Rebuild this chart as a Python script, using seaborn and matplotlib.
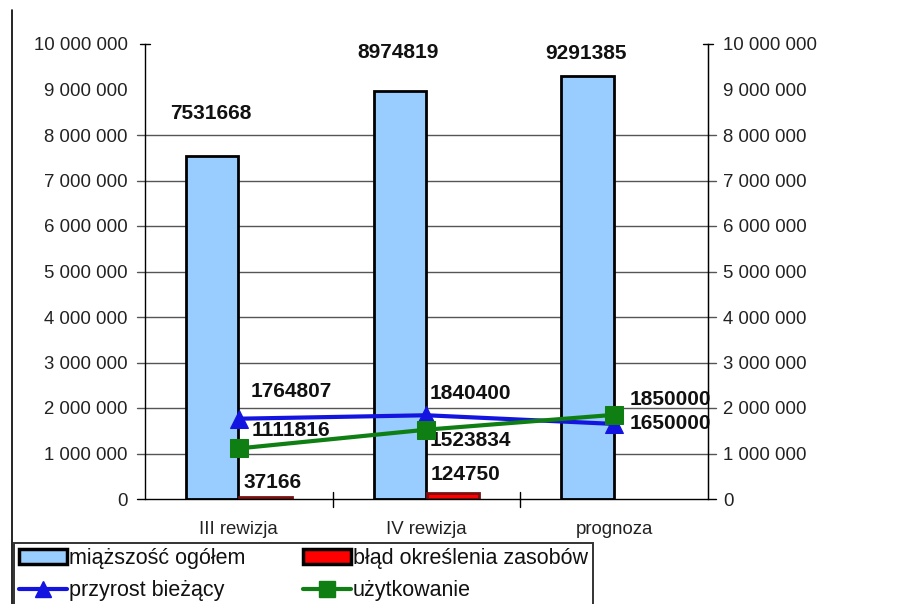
import numpy as np
import pandas as pd
import matplotlib
matplotlib.use("Agg")
import matplotlib.pyplot as plt
import seaborn as sns
from matplotlib.lines import Line2D
from matplotlib.patches import Patch

# data
categories = ["III rewizja", "IV rewizja", "prognoza"]
miazszosc = [7531668, 8974819, 9291385]
blad = [37166, 124750, None]
przyrost = [1764807, 1840400, 1650000]
uzytkowanie = [1111816, 1523834, 1850000]
y_ticks = list(range(0, 10_000_001, 1_000_000))

BLUE_BAR = "#99ccff"
RED_BAR = "#ff0000"
BLUE_LINE = "#1414e0"
GREEN_LINE = "#0f7f14"
TEXT = "#222222"

sns.set_style("white")
plt.rcParams["font.family"] = ["Liberation Sans", "DejaVu Sans"]

rows = []
for c, v in zip(categories, miazszosc):
    rows.append({"kat": c, "seria": "miąższość ogółem", "wartosc": v})
for c, v in zip(categories, blad):
    if v is not None:
        rows.append({"kat": c, "seria": "błąd określenia zasobów", "wartosc": v})
df = pd.DataFrame(rows)

fig = plt.figure(figsize=(9.18, 6.04), dpi=100)
ax = fig.add_axes([145 / 918, 1 - 499 / 604, (708 - 145) / 918, (499 - 44) / 604])

sns.barplot(data=df, x="kat", y="wartosc", hue="seria", order=categories,
            hue_order=["miąższość ogółem", "błąd określenia zasobów"],
            palette=[BLUE_BAR, RED_BAR], saturation=1, width=0.57, gap=0.02,
            edgecolor="black", linewidth=2, legend=False, ax=ax)
# red bars have a dark red outline
for p in ax.patches:
    fc = p.get_facecolor()
    if fc[0] > 0.9 and fc[1] < 0.1:
        p.set_edgecolor("#7a1010")

pos = np.arange(len(categories))
sns.lineplot(x=pos, y=przyrost, color=BLUE_LINE, linewidth=3, marker="^",
             markersize=13, markeredgecolor=BLUE_LINE, ax=ax, zorder=5)
sns.lineplot(x=pos, y=uzytkowanie, color=GREEN_LINE, linewidth=3, marker="s",
             markersize=13, markeredgecolor=GREEN_LINE, ax=ax, zorder=6)

xmin, xmax = -0.5, len(categories) - 0.5
ax.set_xlim(xmin, xmax)
ax.set_ylim(0, 10_000_000)
ax.set_yticks(y_ticks)
fmt = lambda v: f"{v:,}".replace(",", " ")
ax.set_yticklabels([fmt(v) for v in y_ticks])
ax.set_xlabel("")
ax.set_ylabel("")
ax.set_xticks(pos)
ax.set_xticklabels(categories)
ax.tick_params(axis="x", length=0, pad=16, labelsize=13.4, labelcolor=TEXT)
ax.tick_params(axis="y", length=0, pad=12.5, labelsize=13.4, labelcolor=TEXT)

# category separators on the x axis
for b in np.arange(xmin, xmax + 0.5, 1.0)[1:-1]:
    ax.plot([b, b], [-170000, 150000], color="black", lw=1, clip_on=False, zorder=7)

# horizontal grid only up to 8 000 000, running a little past both spines
ext = 0.045
for v in y_ticks[:9]:
    ax.plot([xmin - ext, xmax + ext], [v, v], color="#555555" if v else "black",
            lw=1, clip_on=False, zorder=0 if v else 7)
# short crossing ticks at the top value
for x0 in (xmin, xmax):
    ax.plot([x0 - ext * 0.6, x0 + ext * 0.6], [y_ticks[-1]] * 2, color="black",
            lw=1, clip_on=False, zorder=7)

ax.spines["top"].set_visible(False)
ax.spines["bottom"].set_visible(False)
for s in ["left", "right"]:
    ax.spines[s].set_color("black")
    ax.spines[s].set_linewidth(1)

ax2 = ax.twinx()
ax2.set_ylim(ax.get_ylim())
ax2.set_yticks(y_ticks)
ax2.set_yticklabels([fmt(v) for v in y_ticks])
ax2.tick_params(axis="y", length=0, pad=10.8, labelsize=13.4, labelcolor=TEXT)
for s in ["top", "left", "bottom"]:
    ax2.spines[s].set_visible(False)
ax2.spines["right"].set_color("black")

# value labels (offsets in pixels)
lab = dict(fontsize=15, fontweight="bold", color="#111111", ha="center", va="center")
px = 0.72
bar_dy = [43, 38, 23]
for i, v in enumerate(miazszosc):
    ax.annotate(str(v), (i - 0.15, v), xytext=(0, bar_dy[i] * px),
                textcoords="offset points", **lab)
red_off = [(34, 15), (39, 19)]
for i, v in enumerate(blad):
    if v is not None:
        ax.annotate(str(v), (i, v), xytext=(red_off[i][0] * px, red_off[i][1] * px),
                    textcoords="offset points", **lab)
prz_off = [(52, 27), (44, 22), (56, 0)]
uzy_off = [(52, 18), (44, -11), (56, 15)]
for i, v in enumerate(przyrost):
    ax.annotate(str(v), (i, v), xytext=(prz_off[i][0] * px, prz_off[i][1] * px),
                textcoords="offset points", **lab)
for i, v in enumerate(uzytkowanie):
    ax.annotate(str(v), (i, v), xytext=(uzy_off[i][0] * px, uzy_off[i][1] * px),
                textcoords="offset points", **lab)

# legend at the bottom, filled row by row like the original
handles = [
    Patch(facecolor=BLUE_BAR, edgecolor="black", linewidth=2.5),
    Line2D([], [], color=BLUE_LINE, lw=3, marker="^", markersize=11),
    Patch(facecolor=RED_BAR, edgecolor="black", linewidth=2.5),
    Line2D([], [], color=GREEN_LINE, lw=3, marker="s", markersize=11),
]
labels = ["miąższość ogółem", "przyrost bieżący", "błąd określenia zasobów", "użytkowanie"]
leg = fig.legend(handles, labels, ncol=2, loc="upper left",
                 bbox_to_anchor=(14 / 918, 1 - 543 / 604), frameon=True,
                 fancybox=False, edgecolor="black", fontsize=15.5,
                 handlelength=2.2, handletextpad=0.1, columnspacing=2.7,
                 labelspacing=0.5, borderpad=0.25, borderaxespad=0)
leg.get_frame().set_linewidth(1.4)
for t in leg.get_texts():
    t.set_color("#111111")

# outer chart border on the left
fig.add_artist(Line2D([12 / 918, 12 / 918], [0, 1 - 10 / 604], color="black", lw=1.2))

fig.savefig("out.png", dpi=100)
